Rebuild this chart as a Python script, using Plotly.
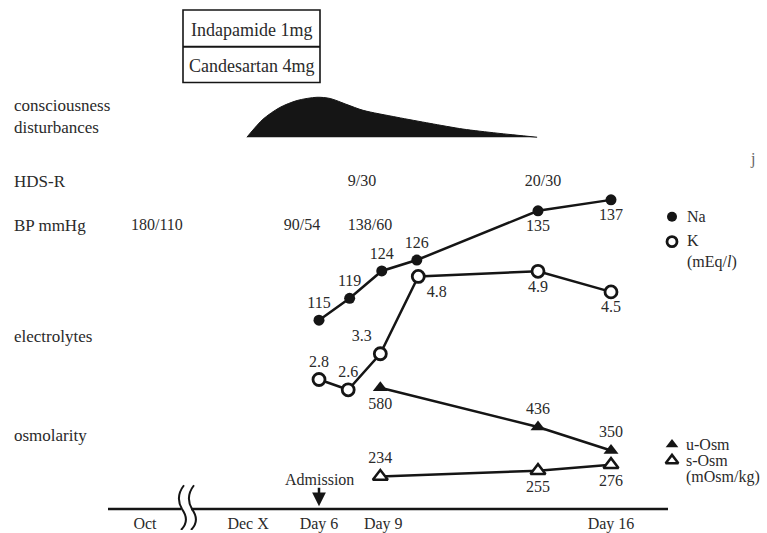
import plotly.graph_objects as go

W, H = 767, 533
FONT = "Liberation Serif"
INK = "#151515"
TXT = "#2a2a2a"

# ---------------- data ----------------
# timeline position (schematic, not to scale)
na_t = [6.0, 7.05, 8.15, 9.35, 13.5, 16.0]
na_val = [115, 119, 124, 126, 135, 137]
k_t = [6.0, 7.0, 8.1, 9.4, 13.5, 16.0]
k_val = [2.8, 2.6, 3.3, 4.8, 4.9, 4.5]
uosm_t = [8.1, 13.5, 16.0]
uosm_val = [580, 436, 350]
sosm_t = [8.1, 13.5, 16.0]
sosm_val = [234, 255, 276]
cons_t = [3.53, 4.08, 4.66, 5.25, 5.93, 6.38, 6.96, 7.51, 8.67, 9.8, 10.93, 12.1, 13.47]
cons_level = [0, 0.44, 0.73, 0.90, 0.98, 0.95, 0.80, 0.66, 0.49, 0.34, 0.20, 0.10, 0]
tick_t = [0.04, 3.57, 6.0, 8.2, 16.0]
tick_labels = ["Oct", "Dec X", "Day 6", "Day 9", "Day 16"]
bp_t = [0.45, 5.42, 7.75]
bp_labels = ["180/110", "90/54", "138/60"]
hds_t = [7.47, 13.67]
hds_labels = ["9/30", "20/30"]
drugs = ["Indapamide 1mg", "Candesartan 4mg"]
admission_t = 6.0
row_labels = ["consciousness<br>disturbances", "HDS-R", "BP mmHg", "electrolytes", "osmolarity"]

# ---------------- layout helpers ----------------
T0, PX0, PX_PER_T = 6.0, 319.0, 29.2  # timeline unit -> pixel


def t_range():
    return [T0 + (0 - PX0) / PX_PER_T, T0 + (W - PX0) / PX_PER_T]


def px_of_t(t):
    return PX0 + (t - T0) * PX_PER_T


def y_range(va, pa, vb, pb):
    s = (pb - pa) / (vb - va)
    return [va + (H - pa) / s, va + (0 - pa) / s]


fig = go.Figure()

# consciousness disturbance area
fig.add_trace(go.Scatter(x=cons_t, y=cons_level, yaxis="y6", mode="lines",
                         line=dict(color=INK, width=1, shape="spline", smoothing=0.8),
                         fill="tozeroy", fillcolor=INK, hoverinfo="skip"))

# BP and HDS-R rows (text)
fig.add_trace(go.Scatter(x=bp_t, y=[227] * len(bp_t), yaxis="y", mode="text", text=bp_labels,
                         textfont=dict(family=FONT, size=16, color=TXT), textposition="middle center"))
fig.add_trace(go.Scatter(x=hds_t, y=[183] * len(hds_t), yaxis="y", mode="text", text=hds_labels,
                         textfont=dict(family=FONT, size=16, color=TXT), textposition="middle center"))

lab_font = dict(family=FONT, size=16, color=TXT)
# Na
fig.add_trace(go.Scatter(x=na_t, y=na_val, yaxis="y2", mode="lines+markers+text",
                         line=dict(color=INK, width=2.5),
                         marker=dict(symbol="circle", size=11, color=INK),
                         text=[str(v) for v in na_val],
                         textposition=["top center"] * 4 + ["bottom center"] * 2,
                         textfont=lab_font, cliponaxis=False))
# K
fig.add_trace(go.Scatter(x=k_t, y=k_val, yaxis="y3", mode="lines+markers+text",
                         line=dict(color=INK, width=2.5),
                         marker=dict(symbol="circle", size=12, color="white", line=dict(color=INK, width=2.8)),
                         text=[str(v) for v in k_val],
                         textposition=["top center", "top center", "top left", "bottom right",
                                       "bottom center", "bottom center"],
                         textfont=lab_font, cliponaxis=False))
# u-Osm
fig.add_trace(go.Scatter(x=uosm_t, y=uosm_val, yaxis="y4", mode="lines+markers+text",
                         line=dict(color=INK, width=2.5),
                         marker=dict(symbol="triangle-up", size=13, color=INK),
                         text=[str(v) for v in uosm_val],
                         textposition=["bottom center", "top center", "top center"],
                         textfont=lab_font, cliponaxis=False))
# s-Osm
fig.add_trace(go.Scatter(x=sosm_t, y=sosm_val, yaxis="y5", mode="lines+markers+text",
                         line=dict(color=INK, width=2.5),
                         marker=dict(symbol="triangle-up", size=13, color="white", line=dict(color=INK, width=2.5)),
                         text=[str(v) for v in sosm_val],
                         textposition=["top center", "bottom center", "bottom center"],
                         textfont=lab_font, cliponaxis=False))

# legend markers (pixel helper axis x2)
fig.add_trace(go.Scatter(x=[672], y=[218], xaxis="x2", yaxis="y", mode="markers",
                         marker=dict(symbol="circle", size=10, color=INK)))
fig.add_trace(go.Scatter(x=[672], y=[243], xaxis="x2", yaxis="y", mode="markers",
                         marker=dict(symbol="circle", size=10, color="white", line=dict(color=INK, width=2.8))))
fig.add_trace(go.Scatter(x=[672], y=[447], xaxis="x2", yaxis="y", mode="markers",
                         marker=dict(symbol="triangle-up", size=11, color=INK)))
fig.add_trace(go.Scatter(x=[672], y=[463], xaxis="x2", yaxis="y", mode="markers",
                         marker=dict(symbol="triangle-up", size=11, color="white", line=dict(color=INK, width=2.5))))

shapes = []
ln = dict(color=INK, width=1.6)
shapes.append(dict(type="rect", xref="x2", yref="y", x0=183, x1=320, y0=10, y1=83, line=ln))
shapes.append(dict(type="line", xref="x2", yref="y", x0=183, x1=320, y0=47, y1=47, line=dict(color=INK, width=2)))
# timeline
shapes.append(dict(type="line", xref="x2", yref="y", x0=108, x1=181, y0=512, y1=512, line=dict(color=INK, width=2.5)))
shapes.append(dict(type="line", xref="x2", yref="y", x0=191, x1=668, y0=512, y1=512, line=dict(color=INK, width=2.5)))
for dx in (0, 10):
    a = 182 + dx
    shapes.append(dict(type="path", xref="x2", yref="y",
                       path=f"M {a+2},488 C {a-5},497 {a-4},505 {a},512 C {a+5},519 {a+6},526 {a-1},533",
                       line=dict(color=INK, width=2)))

ann = []
for lab, yy in zip(row_labels, [117, 183, 227, 338, 438]):
    ann.append(dict(x=12, y=yy, xref="x2", yref="y", text=lab, showarrow=False, xanchor="left",
                    align="left", font=dict(family=FONT, size=17, color=TXT)))
for lab, yy in zip(drugs, [30, 66]):
    ann.append(dict(x=251.5, y=yy, xref="x2", yref="y", text=lab, showarrow=False,
                    font=dict(family=FONT, size=18, color=TXT)))
for lab, yy in [("Na", 218), ("K", 242), ("(mEq/<i>l</i>)", 263)]:
    ann.append(dict(x=685, y=yy, xref="x2", yref="y", text=lab, showarrow=False, xanchor="left",
                    font=dict(family=FONT, size=16, color=TXT)))
for lab, yy in [("u-Osm", 447), ("s-Osm", 463), ("(mOsm/kg)", 480)]:
    ann.append(dict(x=684, y=yy, xref="x2", yref="y", text=lab, showarrow=False, xanchor="left",
                    font=dict(family=FONT, size=16, color=TXT)))
ann.append(dict(x=px_of_t(admission_t), y=482, xref="x2", yref="y", text="Admission", showarrow=False,
                font=dict(family=FONT, size=16, color=TXT)))
ann.append(dict(x=px_of_t(admission_t), y=509, xref="x2", yref="y", ax=px_of_t(admission_t), ay=489,
                axref="x2", ayref="y", text="", showarrow=True, arrowhead=2, arrowsize=1.1,
                arrowwidth=2.5, arrowcolor=INK))
ann.append(dict(x=752, y=160, xref="x2", yref="y", text="j", showarrow=False,
                font=dict(family=FONT, size=16, color="#666")))

axis_off = dict(visible=False, fixedrange=True)
fig.update_layout(
    width=W, height=H, margin=dict(l=0, r=0, t=0, b=0),
    paper_bgcolor="white", plot_bgcolor="white", showlegend=False,
    xaxis=dict(range=t_range(), anchor="free", position=(H - 515) / H, showline=False, showgrid=False,
               zeroline=False, ticks="", tickvals=tick_t, ticktext=tick_labels,
               tickfont=dict(family=FONT, size=16, color=TXT), fixedrange=True),
    xaxis2=dict(range=[0, W], overlaying="x", **axis_off),
    yaxis=dict(range=[H, 0], **axis_off),
    yaxis2=dict(range=y_range(115, 322, 137, 201), overlaying="y", **axis_off),
    yaxis3=dict(range=y_range(2.6, 392, 4.8, 278), overlaying="y", **axis_off),
    yaxis4=dict(range=y_range(580, 390, 350, 453), overlaying="y", **axis_off),
    yaxis5=dict(range=y_range(234, 479.3, 276, 467.3), overlaying="y", **axis_off),
    yaxis6=dict(range=y_range(0, 138, 1, 97), overlaying="y", **axis_off),
    shapes=shapes, annotations=ann,
)

fig.write_html("out.html", config={"displayModeBar": False},
               post_script="document.body.style.margin='0';document.body.style.overflow='hidden';")
